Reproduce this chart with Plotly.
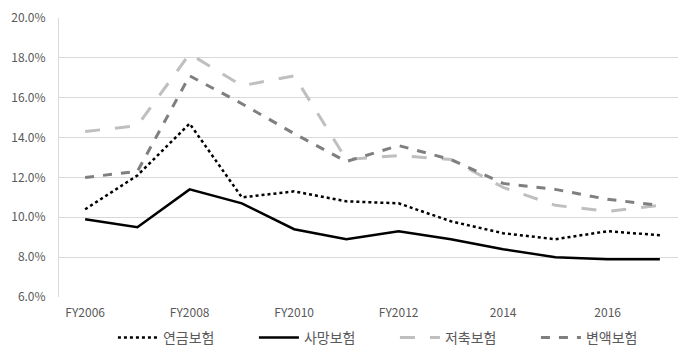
import plotly.graph_objects as go

years = ["FY2006", "FY2007", "FY2008", "FY2009", "FY2010", "FY2011",
         "FY2012", "FY2013", "FY2014", "FY2015", "FY2016", "FY2017"]
tick_vals = ["FY2006", "FY2008", "FY2010", "FY2012", "FY2014", "FY2016"]
tick_text = ["FY2006", "FY2008", "FY2010", "FY2012", "2014", "2016"]

annuity = [10.4, 12.1, 14.7, 11.0, 11.3, 10.8, 10.7, 9.8, 9.2, 8.9, 9.3, 9.1]
death = [9.9, 9.5, 11.4, 10.7, 9.4, 8.9, 9.3, 8.9, 8.4, 8.0, 7.9, 7.9]
savings = [14.3, 14.6, 18.2, 16.6, 17.1, 12.9, 13.1, 12.9, 11.5, 10.6, 10.3, 10.6]
variable = [12.0, 12.3, 17.1, 15.7, 14.2, 12.8, 13.6, 12.9, 11.7, 11.4, 10.9, 10.6]

names = ["연금보험", "사망보험", "저축보험", "변액보험"]
series = [annuity, death, savings, variable]
styles = [("#000000", "dot", 2.5), ("#000000", "solid", 2.5),
          ("#bfbfbf", "longdash", 3), ("#7f7f7f", "dash", 3)]

fig = go.Figure()
for n, s, (c, d, w) in zip(names, series, styles):
    fig.add_trace(go.Scatter(x=years, y=[v / 100 for v in s], name=n, mode="lines",
                             line=dict(color=c, dash=d, width=w)))

fig.update_layout(
    width=678, height=354,
    margin=dict(l=51, r=0, t=10, b=65, autoexpand=False),
    paper_bgcolor="white", plot_bgcolor="white",
    font=dict(family="Noto Sans CJK KR, Open Sans, sans-serif", size=12, color="#595959"),
    legend=dict(orientation="h", x=0.086, xanchor="left", y=-0.147, yanchor="middle",
                font=dict(size=14, color="#595959"), itemwidth=40,
                entrywidth=86, entrywidthmode="pixels",
                traceorder="normal"),
    showlegend=True,
)
fig.update_xaxes(type="category", tickmode="array", tickvals=tick_vals, ticktext=tick_text,
                 showgrid=False, showline=False, ticks="", range=[-0.5, 11.5],
                 ticklabelstandoff=7,
                 tickfont=dict(size=12, color="#595959"))
fig.update_yaxes(range=[0.06, 0.20], dtick=0.02, tickformat=".1%", showgrid=True,
                 gridcolor="#d9d9d9", gridwidth=1, zeroline=False,
                 showline=True, linecolor="#d9d9d9", ticks="",
                 ticklabelstandoff=10,
                 tickfont=dict(size=12, color="#595959"))

fig.write_html("out.html")
